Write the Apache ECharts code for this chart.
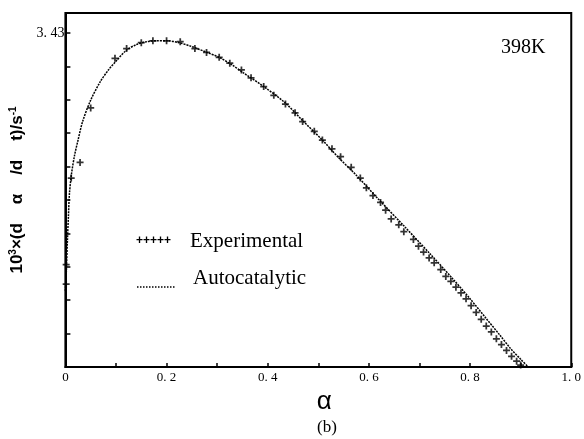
<!DOCTYPE html>
<html>
<head>
<meta charset="utf-8">
<script src="https://cdn.jsdelivr.net/npm/echarts@6/dist/echarts.min.js"></script>
<style>html,body{margin:0;padding:0;background:#fff}#c{width:584px;height:439px}</style>
</head>
<body>
<div id="c"></div>
<script>
// Autocatalytic model curve: alpha, 10^3 dα/dt
var modelAlpha = [0.000,0.002,0.004,0.006,0.008,0.012,0.018,0.025,0.034,0.050,0.069,0.085,0.100,0.120,0.140,0.160,0.180,0.200,0.225,0.250,0.280,0.304,0.330,0.352,0.392,0.435,0.469,0.508,0.540,0.575,0.614,0.669,0.723,0.765,0.800,0.830,0.860,0.880,0.900,0.915];
var modelRate  = [0.78,1.00,1.30,1.55,1.78,1.98,2.17,2.33,2.52,2.74,2.93,3.05,3.14,3.25,3.31,3.34,3.35,3.35,3.33,3.29,3.23,3.18,3.10,3.02,2.88,2.71,2.53,2.33,2.15,1.97,1.75,1.45,1.15,0.91,0.70,0.51,0.32,0.19,0.08,0.00];
// Experimental points
var expAlpha = [0.0015,0.0015,0.0115,0.029,0.050,0.098,0.121,0.150,0.173,0.200,0.227,0.256,0.279,0.304,0.325,0.348,0.367,0.392,0.412,0.435,0.454,0.469,0.492,0.508,0.527,0.544,0.565,0.583,0.595,0.608,0.623,0.633,0.644,0.659,0.669,0.688,0.698,0.708,0.719,0.729,0.742,0.752,0.762,0.772,0.782,0.792,0.802,0.812,0.822,0.832,0.842,0.852,0.862,0.872,0.882,0.892,0.900];
var expRate  = [0.85,1.05,1.94,2.10,2.66,3.17,3.27,3.33,3.35,3.35,3.34,3.27,3.23,3.18,3.12,3.05,2.97,2.88,2.79,2.70,2.61,2.52,2.42,2.33,2.24,2.16,2.05,1.94,1.84,1.76,1.69,1.61,1.52,1.46,1.39,1.31,1.24,1.18,1.12,1.07,1.00,0.93,0.88,0.82,0.76,0.70,0.63,0.56,0.49,0.42,0.36,0.29,0.23,0.17,0.11,0.06,0.02];
var yTickStep = 0.343;
var yLabelValue = 3.43;
var xTickStep = 0.1;

var modelData = modelAlpha.map(function(a,i){return [a, modelRate[i]];});
var expData = expAlpha.map(function(a,i){return [a, expRate[i]];});
var serif = "'Liberation Serif','Times New Roman',serif";
var sans = "'Liberation Sans',Arial,sans-serif";
var plusPath = 'path://M-0.5,-2H0.5V-0.5H2V0.5H0.5V2H-0.5V0.5H-2V-0.5H-0.5Z';

var chart = echarts.init(document.getElementById('c'), null, {renderer:'canvas'});
chart.setOption({
  animation:false,
  backgroundColor:'#fff',
  grid:{left:63, top:13, right:3, bottom:72, show:true, borderColor:'#000', borderWidth:2, backgroundColor:'transparent'},
  xAxis:{
    type:'value', min:0, max:1.0, interval:xTickStep,
    name:'α', nameLocation:'middle', nameGap:10,
    nameTextStyle:{fontFamily:sans, fontSize:26, color:'#000', padding:[0,0,0,12]},
    axisLine:{lineStyle:{color:'#000', width:2}},
    axisTick:{inside:true, length:4, lineStyle:{color:'#000', width:1.5}},
    splitLine:{show:false},
    axisLabel:{
      interval:0, fontFamily:serif, fontSize:13, color:'#000', margin:4,
      formatter:function(v){var k=Math.round(v*10); if(k%2!==0) return ''; if(k===0) return '0'; return (k/10).toFixed(1).replace('.', '. ');}
    }
  },
  yAxis:{
    type:'value', min:0, max:3.635, interval:yTickStep,
    name:'10{sup|3}×(d    α    /d    t)/s{sup|-1}', nameLocation:'middle', nameGap:36, nameRotate:90,
    nameTextStyle:{fontFamily:sans, fontSize:17, fontWeight:'bold', color:'#000',
      rich:{sup:{fontFamily:sans, fontSize:10, fontWeight:'bold', color:'#000', padding:[0,0,8,0]}}},
    axisLine:{lineStyle:{color:'#000', width:2}},
    axisTick:{inside:true, length:5, lineStyle:{color:'#000', width:1.5}},
    splitLine:{show:false},
    axisLabel:{
      fontFamily:serif, fontSize:14, color:'#000', margin:1, showMaxLabel:false,
      formatter:function(v){return Math.abs(v-yLabelValue)<0.01 ? '3. 43' : '';}
    }
  },
  series:[
    {name:'Autocatalytic', type:'line', data:modelData, showSymbol:false, symbol:'none', smooth:0.3,
     lineStyle:{color:'#000', width:1.5, type:[2,1]}, z:2},
    {name:'Experimental', type:'scatter', data:expData, symbol:plusPath, symbolSize:7,
     itemStyle:{color:'#000'}, z:3}
  ],
  graphic:[
    {type:'text', left:501, top:38, style:{text:'398K', font:"20px "+serif, fill:'#000'}},
    {type:'text', left:136, top:235, style:{text:'+++++', font:"bold 12px "+sans, fill:'#000'}},
    {type:'text', left:190, top:231, style:{text:'Experimental', font:"21px "+serif, fill:'#000'}},
    {type:'line', shape:{x1:137, y1:287, x2:175, y2:287}, style:{stroke:'#000', lineWidth:1.3, lineDash:[1.5,1.5]}},
    {type:'text', left:193, top:268, style:{text:'Autocatalytic', font:"21px "+serif, fill:'#000'}},
    {type:'text', left:317, top:419, style:{text:'(b)', font:"17px "+serif, fill:'#000'}}
  ]
});
</script>
</body>
</html>
